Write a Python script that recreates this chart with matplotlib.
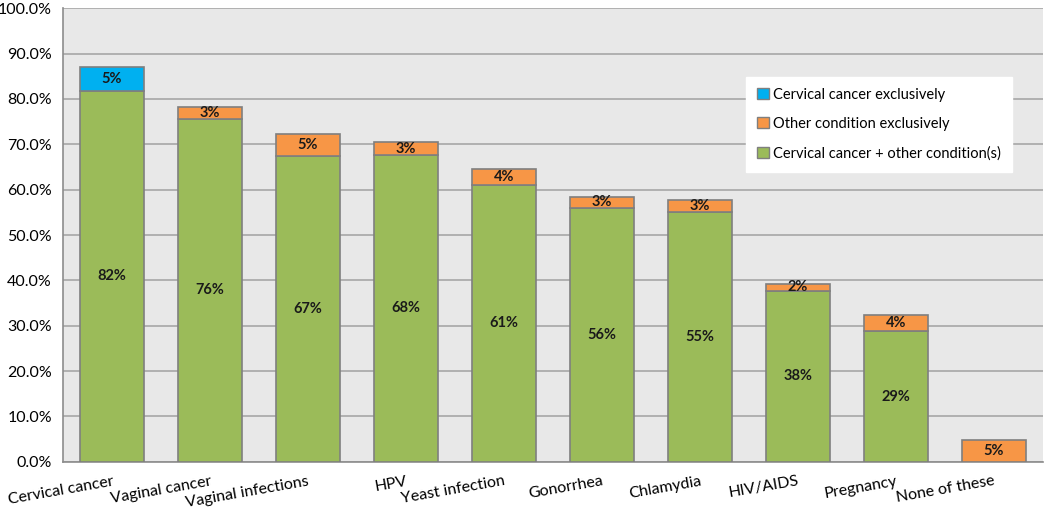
import matplotlib
matplotlib.use("Agg")
import matplotlib.pyplot as plt
from matplotlib.patches import Patch
import numpy as np
from matplotlib.ticker import FuncFormatter, MultipleLocator

categories = ["Cervical cancer", "Vaginal cancer", "Vaginal infections", "HPV",
              "Yeast infection", "Gonorrhea", "Chlamydia", "HIV/AIDS",
              "Pregnancy", "None of these"]
both_vals = [81.8, 75.6, 67.4, 67.6, 61.1, 56.0, 55.0, 37.7, 28.8, 0.0]
both_labels = ["82%", "76%", "67%", "68%", "61%", "56%", "55%", "38%", "29%", None]
cervical_only = [5.2, 0, 0, 0, 0, 0, 0, 0, 0, 0]
cervical_only_labels = ["5%", None, None, None, None, None, None, None, None, None]
other_only = [0, 2.6, 4.8, 2.8, 3.5, 2.4, 2.8, 1.6, 3.5, 4.9]
other_only_labels = [None, "3%", "5%", "3%", "4%", "3%", "3%", "2%", "4%", "5%"]
legend_labels = ["Cervical cancer exclusively", "Other condition exclusively",
                 "Cervical cancer + other condition(s)"]

green = "#9BBB59"
orange = "#F79646"
blue = "#00B0F0"
edge = "#7F7F7F"

plt.rcParams['font.family'] = ['Lato', 'DejaVu Sans']

fig = plt.figure(figsize=(10.5, 5.12), dpi=100)
ax = fig.add_axes([0.06, 0.098, 0.933, 0.886])
ax.set_facecolor("#E8E8E8")

x = np.arange(len(categories))
w = 0.65
both = np.array(both_vals) / 100
cerv = np.array(cervical_only) / 100
oth = np.array(other_only) / 100

b1 = ax.bar(x, both, w, color=green, edgecolor=edge, linewidth=1.2, zorder=3)
b2 = ax.bar(x, cerv, w, bottom=both, color=blue, edgecolor=edge, linewidth=1.2, zorder=3)
b3 = ax.bar(x, oth, w, bottom=both + cerv, color=orange, edgecolor=edge, linewidth=1.2, zorder=3)
for i in range(len(x)):
    if cerv[i] == 0:
        b2[i].set_visible(False)
    if oth[i] == 0:
        b3[i].set_visible(False)
    if both[i] == 0:
        b1[i].set_visible(False)

tkw = dict(ha="center", va="center", fontsize=10.5, fontweight="bold", color="#1a1a1a", zorder=4)
for i in range(len(x)):
    if both_labels[i]:
        ax.text(x[i], both[i] / 2, both_labels[i], **tkw)
    if cervical_only_labels[i]:
        ax.text(x[i], both[i] + cerv[i] / 2, cervical_only_labels[i], **tkw)
    if other_only_labels[i]:
        ax.text(x[i], both[i] + cerv[i] + oth[i] / 2, other_only_labels[i], **tkw)

ax.set_xlim(-0.5, len(categories) - 0.5)
ax.set_ylim(0, 1.0)
ax.yaxis.set_major_locator(MultipleLocator(0.1))
ax.yaxis.set_major_formatter(FuncFormatter(lambda v, p: f"{v*100:.1f}%"))
ax.grid(axis="y", color="#A6A6A6", linewidth=1.2, zorder=0)
ax.set_axisbelow(True)

ax.set_xticks(x)
ax.set_xticklabels(categories, rotation=10, ha="right", rotation_mode="anchor", fontsize=11.5)
ax.tick_params(axis="x", length=0, pad=9)
ax.tick_params(axis="y", length=0, labelsize=11.5, pad=8)

for s in ["top", "right"]:
    ax.spines[s].set_visible(False)
for s in ["left", "bottom"]:
    ax.spines[s].set_color("#8C8C8C")
    ax.spines[s].set_linewidth(1.2)

handles = [Patch(facecolor=blue, edgecolor=edge),
           Patch(facecolor=orange, edgecolor=edge),
           Patch(facecolor=green, edgecolor=edge)]
leg = ax.legend(handles=handles, labels=legend_labels,
                loc="upper left", bbox_to_anchor=(0.69, 0.865), frameon=True,
                fancybox=False, edgecolor="white", facecolor="white", framealpha=1,
                fontsize=10.5, handlelength=0.8, handleheight=0.8, handletextpad=0.3,
                labelspacing=1.05, borderpad=0.75)

fig.savefig("out.png", dpi=100)
